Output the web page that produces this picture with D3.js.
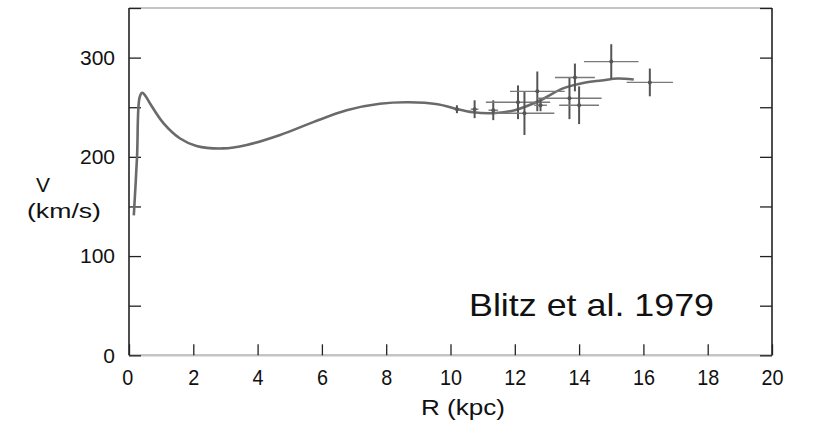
<!DOCTYPE html>
<html>
<head>
<meta charset="utf-8">
<script src="https://cdn.jsdelivr.net/npm/d3@7"></script>
<style>
  body { margin: 0; background: #fff; }
  svg { display: block; }
</style>
</head>
<body>
<svg id="chart" width="815" height="422"></svg>
<script>
// Data

// rotation curve (model line)
const curveR = [0.15, 0.25, 0.33, 0.41, 0.5, 0.65, 1.07, 1.59, 2.1, 2.93, 3.66, 4.7, 5.73, 6.77, 7.8, 8.7, 9.6, 10.1, 10.7, 11.3, 12.0, 12.8, 13.5, 14.2, 14.7, 15.2, 15.7];
const curveV = [141, 200, 260, 264.5, 262, 254, 234, 218.5, 211, 208.5, 212, 222, 235, 247, 253.5, 255, 253, 249, 245, 244, 247, 257, 269, 275, 277, 279, 278];

// observed points with error bars
const ptR    = [10.2, 10.75, 11.33, 12.1, 12.3, 12.7, 12.8, 13.7, 13.87, 14.0, 15.0, 16.2];
const ptV    = [248, 248, 247, 255, 244, 266, 252, 259, 280, 252, 296, 275];
const ptRErr = [0.1, 0.12, 0.15, 1.0, 0.93, 0.85, 0.2, 1.0, 0.62, 0.62, 0.85, 0.72];
const ptVErr = [4, 9, 10, 17, 22, 20, 6, 21, 14, 19, 17.5, 14];

const xTicks = [0, 2, 4, 6, 8, 10, 12, 14, 16, 18, 20];
const yTicks = [0, 50, 100, 150, 200, 250, 300, 350];

// Chart

const svg = d3.select('#chart');

const x = d3.scaleLinear().domain([0, 20]).range([129, 772]);
const y = d3.scaleLinear().domain([0, 350]).range([355.3, 8]);

// frame: top/bottom light gray, sides black
svg.append('line')
    .attr('x1', x(0)).attr('x2', x(20)).attr('y1', y(350)).attr('y2', y(350))
    .attr('stroke', '#c4c4c4').attr('stroke-width', 2);
svg.append('line')
    .attr('x1', x(0)).attr('x2', x(20)).attr('y1', y(0)).attr('y2', y(0))
    .attr('stroke', '#c4c4c4').attr('stroke-width', 2.5);

const gx = svg.append('g')
    .attr('transform', 'translate(0,' + y(0) + ')')
    .call(d3.axisBottom(x).tickValues(xTicks).tickSize(-11).tickPadding(14).tickFormat(d3.format('d')));

const gy = svg.append('g')
    .attr('transform', 'translate(' + x(0) + ',0)')
    .call(d3.axisLeft(y).tickValues(yTicks).tickSize(-12).tickPadding(14)
        .tickFormat(d => d % 100 === 0 ? d : ''));

const gr = svg.append('g')
    .attr('transform', 'translate(' + x(20) + ',0)')
    .call(d3.axisRight(y).tickValues(yTicks).tickSize(-12).tickFormat(''));

gx.select('.domain').remove();
gy.select('.domain').remove();
gr.select('.domain').remove();

svg.append('line')
    .attr('x1', x(0)).attr('x2', x(0)).attr('y1', y(350)).attr('y2', y(0))
    .attr('stroke', '#222').attr('stroke-width', 1.6);
svg.append('line')
    .attr('x1', x(20)).attr('x2', x(20)).attr('y1', y(350)).attr('y2', y(0))
    .attr('stroke', '#222').attr('stroke-width', 1.6);

gx.selectAll('.tick line').attr('stroke', '#222').attr('stroke-width', 1.3);
gy.selectAll('.tick line').attr('stroke', '#222').attr('stroke-width', 1.3);
gr.selectAll('.tick line').attr('stroke', '#222').attr('stroke-width', 1.3);

// slightly narrow digits on the R axis
gx.selectAll('.tick text')
    .style('font-family', '"Liberation Sans", Arial, sans-serif')
    .style('font-size', '22px').attr('fill', '#111')
    .attr('transform', 'scale(0.9,1)');
gx.selectAll('.tick').filter(d => d === 0).select('text').attr('dx', -2);

gy.selectAll('.tick text')
    .style('font-family', '"Liberation Sans", Arial, sans-serif')
    .style('font-size', '21px').attr('fill', '#111');

// model curve
const line = d3.line()
    .x(function (d, i) { return x(curveR[i]); })
    .y(function (d, i) { return y(curveV[i]); })
    .curve(d3.curveCatmullRom.alpha(0.5));

svg.append('path')
    .datum(curveV)
    .attr('d', line)
    .attr('fill', 'none')
    .attr('stroke', '#6a6a6a')
    .attr('stroke-width', 2.6)
    .attr('stroke-linejoin', 'round');

// error bars
const pts = svg.append('g');
ptR.forEach(function (r, i) {
    pts.append('line')
        .attr('x1', x(r - ptRErr[i])).attr('x2', x(r + ptRErr[i]))
        .attr('y1', y(ptV[i])).attr('y2', y(ptV[i]))
        .attr('stroke', '#7a7a7a').attr('stroke-width', 1.4);
    pts.append('line')
        .attr('x1', x(r)).attr('x2', x(r))
        .attr('y1', y(ptV[i] - ptVErr[i])).attr('y2', y(ptV[i] + ptVErr[i]))
        .attr('stroke', '#555').attr('stroke-width', 2);
    pts.append('circle')
        .attr('cx', x(r)).attr('cy', y(ptV[i])).attr('r', 2)
        .attr('fill', '#555');
});

// labels
svg.append('text')
    .attr('x', 43).attr('y', 192)
    .attr('text-anchor', 'middle')
    .attr('font-family', '"Liberation Sans", Arial, sans-serif')
    .attr('font-size', 21).attr('fill', '#111')
    .text('V');

svg.append('text')
    .attr('x', 27).attr('y', 218)
    .attr('textLength', 74).attr('lengthAdjust', 'spacingAndGlyphs')
    .attr('font-family', '"Liberation Sans", Arial, sans-serif')
    .attr('font-size', 21).attr('fill', '#111')
    .text('(km/s)');

svg.append('text')
    .attr('x', 421).attr('y', 415)
    .attr('textLength', 84).attr('lengthAdjust', 'spacingAndGlyphs')
    .attr('font-family', '"Liberation Sans", Arial, sans-serif')
    .attr('font-size', 22).attr('fill', '#111')
    .text('R (kpc)');

svg.append('text')
    .attr('x', 469).attr('y', 316)
    .attr('textLength', 245).attr('lengthAdjust', 'spacingAndGlyphs')
    .attr('font-family', '"Liberation Sans", Arial, sans-serif')
    .attr('font-size', 32).attr('fill', '#111')
    .text('Blitz et al. 1979');
</script>
</body>
</html>
